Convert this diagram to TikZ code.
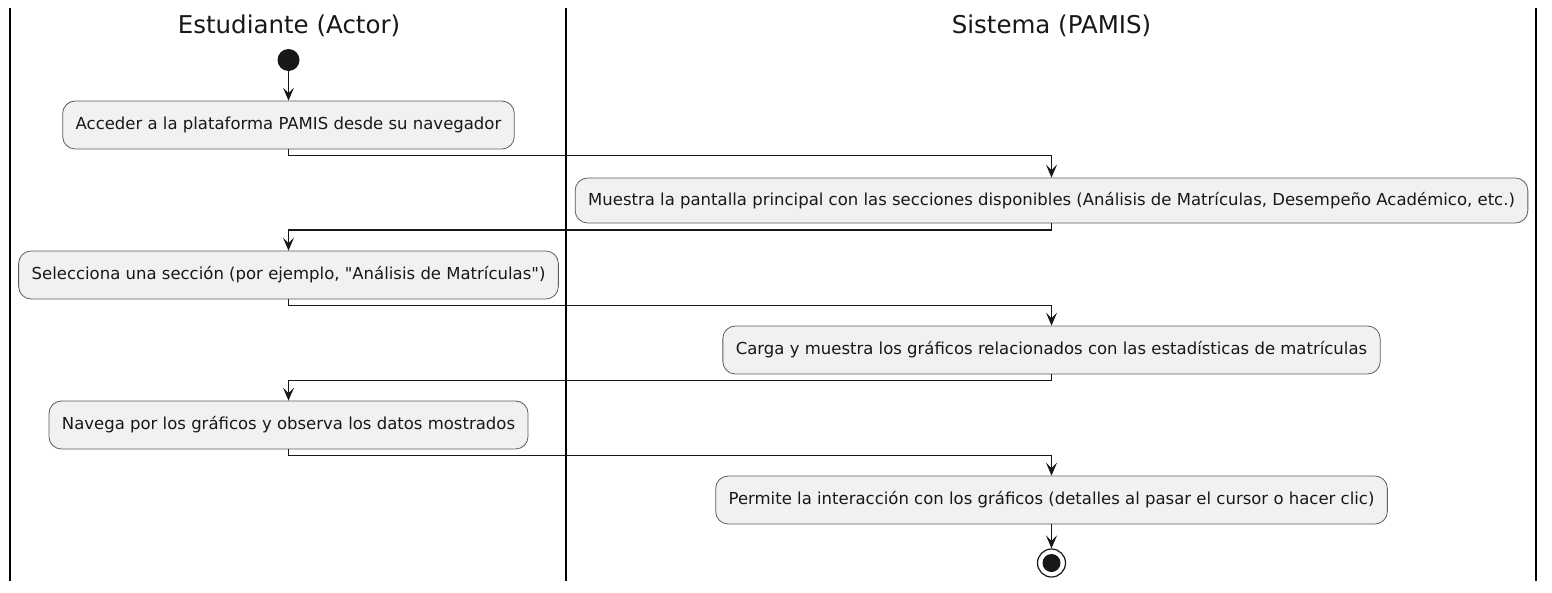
\documentclass[tikz,border=0pt]{standalone}
\usepackage{fontspec}
\setmainfont{DejaVu Sans}[Ligatures=TeXOff]
\usetikzlibrary{arrows.meta}
\definecolor{boxfill}{HTML}{F1F1F1}
\definecolor{ink}{HTML}{181818}
\tikzset{
  act/.style={draw=ink!70, line width=0.8pt, fill=boxfill, rounded corners=12.5pt,
    inner xsep=13pt, minimum height=48pt, font=\fontsize{16.5}{19}\selectfont, text=ink},
  flow/.style={draw=ink, line width=1.4pt, -{Stealth[length=13pt,width=11pt,inset=5.5pt]}},
  lane/.style={draw=black, line width=1.8pt},
  lanetitle/.style={font=\fontsize{24.5}{28}\selectfont, text=ink}
}
\begin{document}
\begin{tikzpicture}[x=1pt,y=-1pt]
\useasboundingbox (0,0) rectangle (1552,592);
\fill[white] (0,0) rectangle (1552,592);
% lanes
\coordinate (l1t) at (10,8); \coordinate (l1b) at (10,581);
\coordinate (l2t) at (566,8); \coordinate (l2b) at (566,581);
\coordinate (l3t) at (1536,8); \coordinate (l3b) at (1536,581);
\draw[lane] (l1t) -- (l1b);
\draw[lane] (l2t) -- (l2b);
\draw[lane] (l3t) -- (l3b);
\node[lanetitle] (t1) at (289,26) {Estudiante (Actor)};
\node[lanetitle] (t2) at (1051.5,26) {Sistema (PAMIS)};
% start
\node[circle, fill=ink, minimum size=22pt, inner sep=0pt] (start) at (288.5,60) {};
% activities
\node[act] (a1) at (288.5,125) {Acceder a la plataforma PAMIS desde su navegador};
\node[act, minimum height=45pt] (a2) at (1051.5,200.5) {Muestra la pantalla principal con las secciones disponibles (Análisis de Matrículas, Desempeño Académico, etc.)};
\node[act] (a3) at (288.5,275) {Selecciona una sección (por ejemplo, "Análisis de Matrículas")};
\node[act] (a4) at (1051.5,350) {Carga y muestra los gráficos relacionados con las estadísticas de matrículas};
\node[act] (a5) at (288.5,425) {Navega por los gráficos y observa los datos mostrados};
\node[act] (a6) at (1051.5,500) {Permite la interacción con los gráficos (detalles al pasar el cursor o hacer clic)};
% end
\node[circle, draw=ink, line width=1.2pt, fill=white, minimum size=28pt, inner sep=0pt] (end) at (1051.5,563) {};
\node[circle, fill=ink, minimum size=18pt, inner sep=0pt] (endin) at (end.center) {};
% flows
\draw[flow] (start) -- (a1);
\draw[flow] (a1.south) -- ++(0,6) -| (a2.north);
\draw[flow] (a2.south) -- ++(0,6.5) -| (a3.north);
\draw[flow] (a3.south) -- ++(0,6) -| (a4.north);
\draw[flow] (a4.south) -- ++(0,6) -| (a5.north);
\draw[flow] (a5.south) -- ++(0,6) -| (a6.north);
\draw[flow] (a6.south) -- (end.north);
\end{tikzpicture}
\end{document}
